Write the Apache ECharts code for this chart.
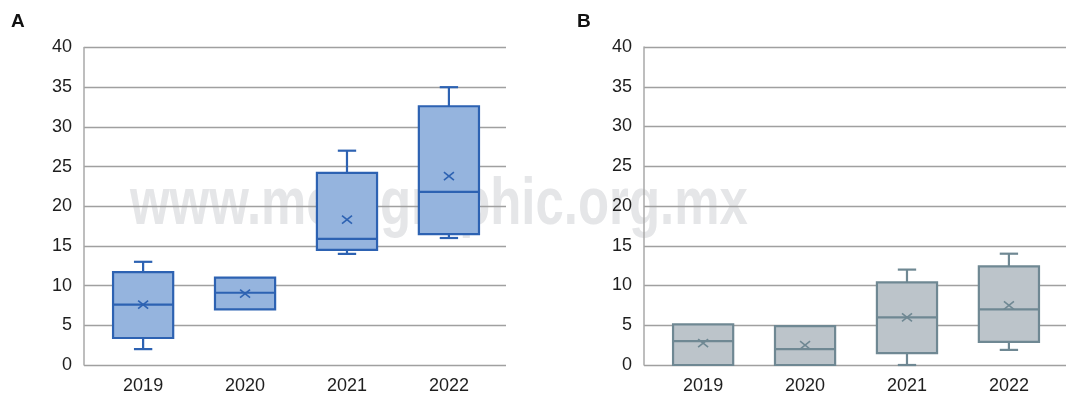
<!DOCTYPE html>
<html>
<head>
<meta charset="utf-8">
<script src="https://cdn.jsdelivr.net/npm/echarts@6/dist/echarts.min.js"></script>
<style>
  html, body { margin: 0; padding: 0; background: #ffffff; }
  #chart { width: 1085px; height: 395px; }
</style>
</head>
<body>
<div id="chart"></div>
<script>
// Categories and axis ticks
const years = ['2019', '2020', '2021', '2022'];
const yMin = 0;
const yMax = 40;
const yStep = 5;

// Panel A: whisker low, Q1, median, Q3, whisker high, mean
const aLow    = [2,    null, 14,   16];
const aQ1     = [3.4,  7,    14.5, 16.5];
const aMedian = [7.6,  9.1,  15.9, 21.8];
const aQ3     = [11.7, 11,   24.2, 32.6];
const aHigh   = [13,   null, 27,   35];
const aMean   = [7.6,  9.0,  18.3, 23.8];

// Panel B
const bLow    = [null, null, 0,    1.9];
const bQ1     = [0,    0,    1.5,  2.9];
const bMedian = [3.0,  2.0,  6.0,  7.0];
const bQ3     = [5.1,  4.9,  10.4, 12.4];
const bHigh   = [null, null, 12,   14];
const bMean   = [2.75, 2.5,  6.0,  7.5];

const FONT = '"Liberation Sans", Arial, sans-serif';

function rows(low, q1, med, q3, high, mean) {
  const v = (x) => (x === null || x === undefined ? '-' : x);
  return years.map((_, i) => [i, v(low[i]), v(q1[i]), v(med[i]), v(q3[i]), v(high[i]), v(mean[i])]);
}

function seg(x1, y1, x2, y2, style) {
  return { type: 'line', shape: { x1, y1, x2, y2 }, style };
}

// Box with whiskers, median bar and an "x" for the mean
function boxRenderer(stroke, fill) {
  return function (params, api) {
    const x = api.value(0);
    const low = api.value(1), q1 = api.value(2), med = api.value(3);
    const q3 = api.value(4), high = api.value(5), mean = api.value(6);
    const halfBox = api.size([0.59, 0])[0] / 2;
    const halfCap = api.size([0.18, 0])[0] / 2;
    const pQ1 = api.coord([x, q1]);
    const pQ3 = api.coord([x, q3]);
    const pMed = api.coord([x, med]);
    const cx = pQ1[0];
    const ls = { stroke: stroke, lineWidth: 2.2 };
    const children = [];
    if (!isNaN(high)) {
      const p = api.coord([x, high]);
      children.push(seg(cx, pQ3[1], cx, p[1], ls));
      children.push(seg(cx - halfCap, p[1], cx + halfCap, p[1], ls));
    }
    if (!isNaN(low)) {
      const p = api.coord([x, low]);
      children.push(seg(cx, pQ1[1], cx, p[1], ls));
      children.push(seg(cx - halfCap, p[1], cx + halfCap, p[1], ls));
    }
    children.push({
      type: 'rect',
      shape: { x: cx - halfBox, y: pQ3[1], width: halfBox * 2, height: pQ1[1] - pQ3[1] },
      style: { fill: fill, stroke: stroke, lineWidth: 2.2 }
    });
    children.push(seg(cx - halfBox, pMed[1], cx + halfBox, pMed[1], ls));
    const pm = api.coord([x, mean]);
    const ms = { stroke: stroke, lineWidth: 1.6 };
    children.push(seg(pm[0] - 5, pm[1] - 4, pm[0] + 5, pm[1] + 4, ms));
    children.push(seg(pm[0] - 5, pm[1] + 4, pm[0] + 5, pm[1] - 4, ms));
    return { type: 'group', children: children };
  };
}

function xAxisFor(gridIndex) {
  return {
    type: 'value',
    gridIndex: gridIndex,
    min: -0.58,
    max: 3.56,
    axisLine: { show: false },
    axisTick: { show: false },
    splitLine: { show: false },
    axisLabel: {
      customValues: years.map((_, i) => i),
      formatter: (v) => years[Math.round(v)],
      fontFamily: FONT,
      fontSize: 18,
      color: '#1e1e1e',
      margin: 12
    }
  };
}

function yAxisFor(gridIndex) {
  return {
    type: 'value',
    gridIndex: gridIndex,
    min: yMin,
    max: yMax,
    interval: yStep,
    axisLine: { show: true, onZero: false, lineStyle: { color: '#a9a9a9', width: 1.5 } },
    axisTick: { show: false },
    splitLine: { show: true, lineStyle: { color: '#a0a0a0', width: 1.3 } },
    axisLabel: {
      fontFamily: FONT,
      fontSize: 18,
      color: '#1e1e1e',
      margin: 12
    }
  };
}

const chart = echarts.init(document.getElementById('chart'), null, { renderer: 'canvas' });
chart.setOption({
  animation: false,
  backgroundColor: '#ffffff',
  graphic: [
    {
      type: 'text', z: -100, x: 130, y: 206, scaleX: 0.76,
      style: {
        text: 'www.medigraphic.org.mx',
        font: 'bold 67px "Liberation Sans", Arial, sans-serif',
        fill: '#e5e6e8',
        textVerticalAlign: 'middle'
      }
    },
    {
      type: 'text', x: 11, y: 22,
      style: { text: 'A', font: 'bold 19px "Liberation Sans", Arial, sans-serif', fill: '#111', textVerticalAlign: 'middle' }
    },
    {
      type: 'text', x: 577, y: 22,
      style: { text: 'B', font: 'bold 19px "Liberation Sans", Arial, sans-serif', fill: '#111', textVerticalAlign: 'middle' }
    }
  ],
  grid: [
    { left: 84, top: 47.5, width: 422, height: 320 },
    { left: 644, top: 47, width: 422, height: 319 }
  ],
  xAxis: [xAxisFor(0), xAxisFor(1)],
  yAxis: [yAxisFor(0), yAxisFor(1)],
  series: [
    {
      type: 'custom', name: 'A', xAxisIndex: 0, yAxisIndex: 0,
      renderItem: boxRenderer('#2d62b2', '#95b4de'),
      encode: { x: 0, y: [1, 2, 3, 4, 5, 6] },
      data: rows(aLow, aQ1, aMedian, aQ3, aHigh, aMean)
    },
    {
      type: 'custom', name: 'B', xAxisIndex: 1, yAxisIndex: 1,
      renderItem: boxRenderer('#6f8893', '#bcc4ca'),
      encode: { x: 0, y: [1, 2, 3, 4, 5, 6] },
      data: rows(bLow, bQ1, bMedian, bQ3, bHigh, bMean)
    }
  ]
});
</script>
</body>
</html>
